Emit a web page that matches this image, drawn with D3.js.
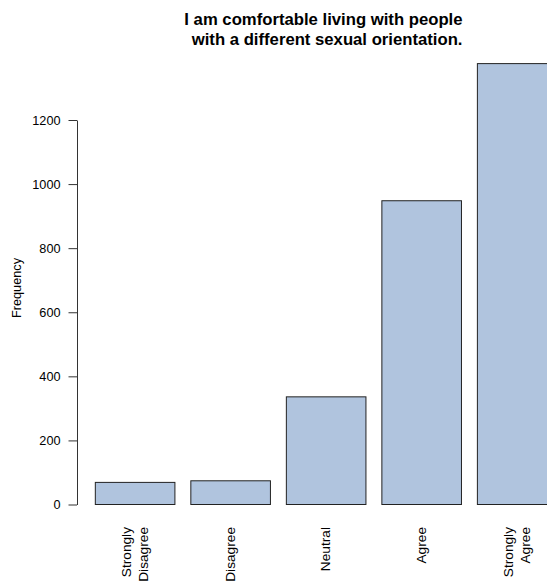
<!DOCTYPE html>
<html>
<head>
<meta charset="utf-8">
<script src="https://cdn.jsdelivr.net/npm/d3@7"></script>
<style>
  body { margin: 0; background: #fff; }
  text { font-family: "Liberation Sans", Arial, Helvetica, sans-serif; fill: #000; }
</style>
</head>
<body>
<script>
const categories = [["Strongly", "Disagree"], ["Disagree"], ["Neutral"], ["Agree"], ["Strongly", "Agree"]];
const counts = [69, 74, 336, 948, 1376];
const yTicks = [0, 200, 400, 600, 800, 1000, 1200];
const titleLines = ["I am comfortable living with people", " with a different sexual orientation."];

const w = 547, h = 583;

const svg = d3.select("body").append("svg")
    .attr("width", w).attr("height", h);

// bar units: width 1, space 0.2 (like R barplot)
const xScale = d3.scaleLinear().domain([0, 6.2]).range([79.4, 572.9]);
const yScale = d3.scaleLinear().domain([0, 1200]).range([504.5, 120]);
const barW = xScale(1) - xScale(0);

svg.selectAll("rect.bar")
    .data(counts)
    .enter()
    .append("rect")
    .attr("class", "bar")
    .attr("x", (d, i) => xScale(0.2 + i * 1.2))
    .attr("y", d => yScale(d))
    .attr("width", barW)
    .attr("height", d => yScale(0) - yScale(d))
    .attr("fill", "#b0c4de")
    .attr("stroke", "#222")
    .attr("stroke-width", 1);

const yAxis = d3.axisLeft(yScale)
    .tickValues(yTicks)
    .tickFormat(d3.format("d"))
    .tickSize(8.5)
    .tickSizeOuter(0)
    .tickPadding(8);

const gy = svg.append("g")
    .attr("transform", "translate(77,0)")
    .call(yAxis)
    .attr("font-size", 12.7)
    .attr("font-family", null);
gy.selectAll("text").style("font-size", "12.7px").attr("fill", "#000");
gy.selectAll("line, path").attr("stroke", "#333");

// category names, rotated, multi-line
const names = svg.selectAll("g.name")
    .data(categories)
    .enter()
    .append("g")
    .attr("class", "name")
    .attr("transform", (d, i) => "translate(" + (xScale(0.7 + i * 1.2)) + ",527) rotate(-90)");

names.each(function (lines) {
    const t = d3.select(this).append("text")
        .attr("text-anchor", "end")
        .style("font-size", "13.7px");
    lines.forEach((ln, k) => {
        t.append("tspan")
            .attr("x", 0)
            .attr("y", (k - (lines.length - 1) / 2) * 16.5 + 4.2)
            .text(ln);
    });
});

svg.append("text")
    .attr("transform", "translate(21,288) rotate(-90)")
    .attr("text-anchor", "middle")
    .style("font-size", "12.7px")
    .text("Frequency");

svg.selectAll("text.title")
    .data(titleLines)
    .enter()
    .append("text")
    .attr("class", "title")
    .attr("x", 462.5)
    .attr("y", (d, i) => 25 + i * 20)
    .attr("text-anchor", "end")
    .style("font-size", "16.7px")
    .style("font-weight", "bold")
    .style("white-space", "pre")
    .text(d => d);
</script>
</body>
</html>
